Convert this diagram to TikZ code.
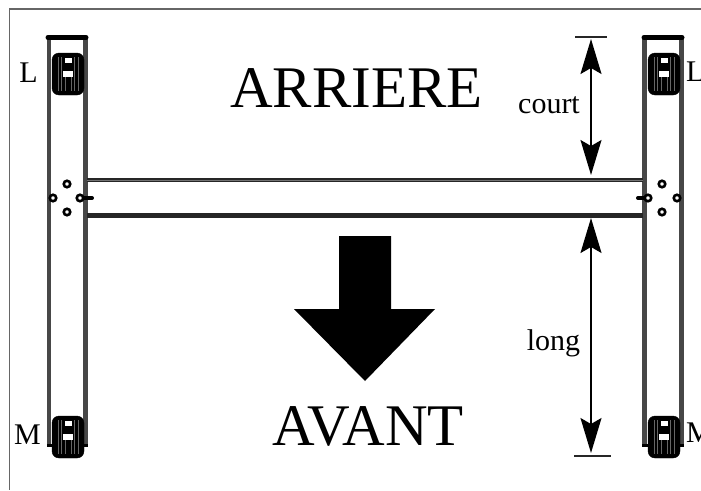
\documentclass[tikz,border=0pt]{standalone}
\usepackage{fontspec}
\setmainfont{Liberation Serif}
\usetikzlibrary{arrows.meta}
\newcommand\wheelW{32}
\newcommand\wheelH{42}
\tikzset{
	legline/.style={draw=black!72,line width=4.5pt},
	capline/.style={draw=black,line width=5pt,line cap=round},
	barline/.style={draw=black!85},
	hole/.style={circle,draw=black,line width=2.6pt,fill=white,minimum size=6.5pt,inner sep=0pt},
	dimline/.style={draw=black,line width=1.6pt,{Stealth[length=35pt,width=21pt,inset=6pt]}-{Stealth[length=35pt,width=21pt,inset=6pt]}},
	tickline/.style={draw=black!85,line width=2.4pt},
	bigtext/.style={font=\fontsize{59}{60}\selectfont,inner sep=0pt},
	smalltext/.style={font=\fontsize{30}{30}\selectfont,inner sep=0pt}
}
\newcommand\wheel[2]{%
	\draw [fill=black,draw=black,rounded corners=7pt] (#1,#2) rectangle (#1+\wheelW,#2+\wheelH);
	\foreach \j in {6,9.5,13,19,22.5,26} {
		\draw [draw=black!60,line width=1pt] (#1+\j,#2+4) -- (#1+\j,#2+\wheelH-4);
	}
	\draw [fill=black,draw=none] (#1+12,#2+3) rectangle (#1+20,#2+18);
	\draw [fill=white,draw=none] (#1+12.5,#2+5) rectangle (#1+19.5,#2+10);
	\draw [fill=white,draw=none] (#1+11,#2+18) rectangle (#1+21,#2+24);
}
\begin{document}
\begin{tikzpicture}[x=1pt,y=-1pt]
\useasboundingbox (0,0) rectangle (701,490);
\fill [white] (0,0) rectangle (701,490);
% frame
\draw [draw=black!60,line width=1.6pt] (701,9) -- (9.5,9) -- (9.5,490);
% legs
\foreach \x in {49,85.5,644.5,681.5} {
	\draw [legline] (\x,37) -- (\x,447);
}
\draw [capline] (48,37.5) -- (86,37.5);
\draw [capline] (644,37.5) -- (682,37.5);
\foreach \a/\b in {47/52,83/88,642/648,679/684} {
	\draw [draw=black,line width=3.5pt] (\a,445.5) -- (\b,445.5);
}
% wheels
\wheel{52}{53}
\wheel{52}{416}
\wheel{648}{53}
\wheel{648}{416}
% bars
\draw [barline,line width=4pt] (87,180) -- (643,180);
\draw [barline,line width=5pt] (87,215.5) -- (643,215.5);
\draw [draw=black!55,line width=.8pt] (87,180) -- (643,180);
% holes
\draw [line width=4pt,line cap=round,draw=black] (82,198) -- (92,198);
\draw [line width=4pt,line cap=round,draw=black] (638,198) -- (648,198);
\foreach \x/\y in {67/184,67/212,53/198,80/198,648/198,662/184,662/212,677/198} {
	\node [hole] at (\x,\y) {};
}
% big arrow
\fill [black] (339,236) -- (391,236) -- (391,309) -- (435,309) -- (365,381) -- (294,309) -- (339,309) -- cycle;
% labels
\node [bigtext] (arriere) at (356.5,88.5) {ARRIERE};
\node [bigtext] (avant) at (368,426) {AVANT};
\node [smalltext] (court) at (549,105) {court};
\node [smalltext] (long) at (553.5,343) {long};
\node [smalltext] (lleft) at (28.5,73) {L};
\node [smalltext,anchor=west] (lright) at (686,72) {L};
\node [smalltext] (mleft) at (27.5,435) {M};
\node [smalltext,anchor=west] (mright) at (686,433) {M};
% dimensions
\coordinate (courttop) at (591,39);
\coordinate (courtbot) at (591,175);
\coordinate (longtop) at (591,218);
\coordinate (longbot) at (591,453);
\draw [tickline] (575,37) -- (607,37);
\draw [tickline] (574,456) -- (611,456);
\draw [dimline] (courttop) -- (courtbot);
\draw [dimline] (longtop) -- (longbot);
\end{tikzpicture}
\end{document}
